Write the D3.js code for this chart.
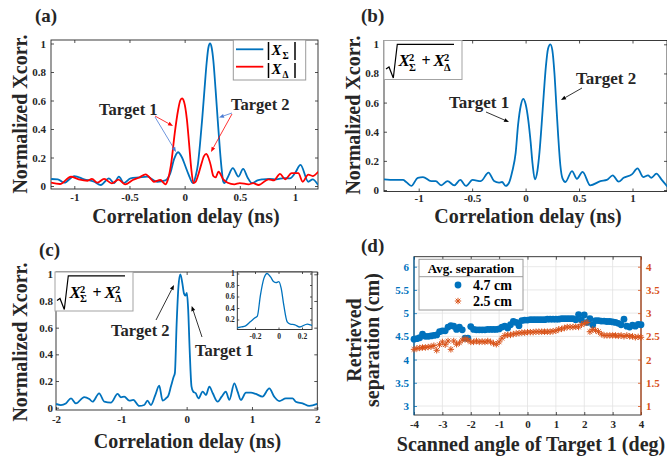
<!DOCTYPE html>
<html><head><meta charset="utf-8">
<script src="https://cdn.jsdelivr.net/npm/d3@7"></script>
<style>
body{margin:0;background:#fff;}
svg text{font-family:"Liberation Serif","Times New Roman",serif;font-weight:bold;}
</style></head><body>
<svg id="fig" width="667" height="461"></svg>
<script>
// ---------------- data ----------------
// (a) |X_sum| and |X_delta| cross-correlation magnitudes vs delay (ns)
const aTicksX = [-1, -0.5, 0, 0.5, 1];
const aTicksY = [0, 0.2, 0.4, 0.6, 0.8, 1];
const sumA = [[-1.21,0.049],[-1.15,0.047],[-1.09,0.023],[-1.0,0.07],[-0.91,0.047],[-0.82,0.03],[-0.76,0.007],[-0.686,0.054],[-0.64,0.02],[-0.596,0.066],[-0.55,0.02],[-0.49,0.054],[-0.415,0.06],[-0.34,0.066],[-0.25,0.03],[-0.174,0.04],[-0.13,0.09],[-0.095,0.19],[-0.06,0.237],[-0.024,0.2],[0.006,0.14],[0.036,0.08],[0.075,0.02],[0.1,0.07],[0.12,0.15],[0.14,0.3],[0.16,0.48],[0.18,0.68],[0.2,0.87],[0.215,0.97],[0.23,1.0],[0.245,0.97],[0.26,0.88],[0.28,0.68],[0.3,0.46],[0.32,0.25],[0.335,0.12],[0.35,0.03],[0.36,0.02],[0.39,0.06],[0.437,0.125],[0.487,0.066],[0.53,0.12],[0.57,0.06],[0.61,0.02],[0.66,0.04],[0.71,0.047],[0.77,0.05],[0.83,0.047],[0.9,0.055],[0.954,0.054],[1.0,0.09],[1.05,0.148],[1.12,0.03],[1.16,0.047],[1.21,0.007]];
const deltaA = [[-1.21,0.023],[-1.13,0.014],[-1.03,0.065],[-0.96,0.047],[-0.88,0.037],[-0.84,0.05],[-0.79,0.023],[-0.73,0.05],[-0.66,0.019],[-0.6,0.045],[-0.54,0.012],[-0.47,0.042],[-0.41,0.06],[-0.354,0.082],[-0.3,0.045],[-0.28,0.03],[-0.22,0.042],[-0.174,0.012],[-0.15,0.05],[-0.12,0.17],[-0.09,0.37],[-0.06,0.53],[-0.04,0.6],[-0.024,0.615],[-0.005,0.59],[0.02,0.47],[0.04,0.3],[0.06,0.12],[0.08,0.02],[0.1,0.03],[0.12,0.07],[0.15,0.15],[0.175,0.21],[0.196,0.225],[0.215,0.2],[0.235,0.15],[0.26,0.07],[0.28,0.06],[0.307,0.1],[0.35,0.047],[0.39,0.023],[0.45,0.012],[0.5,0.02],[0.58,0.012],[0.62,0.02],[0.67,0.007],[0.76,0.047],[0.81,0.04],[0.864,0.085],[0.91,0.047],[0.97,0.09],[1.03,0.09],[1.07,0.03],[1.12,0.08],[1.16,0.07],[1.21,0.1]];

// (b) root-sum-square of both channels
const bTicksX = [-1, -0.5, 0, 0.5, 1];
const bTicksY = [0, 0.2, 0.4, 0.6, 0.8, 1];
const rssB = [[-1.33,0.073],[-1.225,0.069],[-1.147,0.069],[-1.117,0.055],[-1.07,0.028],[-1.008,0.084],[-0.96,0.089],[-0.884,0.061],[-0.84,0.061],[-0.79,0.032],[-0.73,0.061],[-0.667,0.032],[-0.611,0.069],[-0.558,0.028],[-0.496,0.069],[-0.419,0.061],[-0.347,0.119],[-0.295,0.061],[-0.25,0.05],[-0.22,0.055],[-0.186,0.028],[-0.155,0.05],[-0.124,0.13],[-0.093,0.255],[-0.07,0.45],[-0.045,0.58],[-0.022,0.626],[0.0,0.59],[0.025,0.48],[0.047,0.33],[0.065,0.18],[0.087,0.073],[0.11,0.13],[0.13,0.26],[0.15,0.45],[0.17,0.66],[0.19,0.85],[0.21,0.97],[0.232,1.0],[0.25,0.96],[0.27,0.8],[0.29,0.55],[0.305,0.37],[0.325,0.17],[0.345,0.08],[0.372,0.055],[0.434,0.13],[0.48,0.077],[0.533,0.125],[0.605,0.032],[0.7,0.061],[0.76,0.069],[0.815,0.1],[0.87,0.057],[0.917,0.084],[0.994,0.107],[1.047,0.148],[1.1,0.089],[1.145,0.1],[1.176,0.084],[1.224,0.112],[1.27,0.073],[1.33,0.02]];

// (c) root-sum-square, closely spaced targets, with zoomed inset
const cTicksX = [-2, -1, 0, 1, 2];
const cTicksY = [0, 0.2, 0.4, 0.6, 0.8, 1];
const insetTicksX = [-0.2, 0, 0.2];
const insetTicksY = [0.2, 0.4, 0.6, 0.8, 1];
const rssC = [[-2.0,0.028],[-1.925,0.02],[-1.85,0.032],[-1.77,0.07],[-1.695,0.032],[-1.568,0.08],[-1.49,0.065],[-1.44,0.045],[-1.34,0.108],[-1.26,0.045],[-1.16,0.038],[-1.057,0.103],[-1.005,0.078],[-0.955,0.083],[-0.878,0.053],[-0.817,0.058],[-0.725,0.013],[-0.65,0.02],[-0.6,0.053],[-0.547,0.02],[-0.48,0.095],[-0.42,0.165],[-0.368,0.053],[-0.317,0.07],[-0.28,0.09],[-0.24,0.16],[-0.2,0.23],[-0.18,0.26],[-0.154,0.62],[-0.125,0.91],[-0.097,1.0],[-0.068,0.94],[-0.04,0.855],[-0.02,0.84],[0.003,0.86],[0.023,0.74],[0.045,0.45],[0.074,0.16],[0.1,0.12],[0.14,0.108],[0.18,0.07],[0.245,0.12],[0.296,0.095],[0.347,0.158],[0.4,0.108],[0.475,0.045],[0.536,0.083],[0.6,0.12],[0.653,0.058],[0.73,0.183],[0.78,0.12],[0.83,0.058],[0.908,0.113],[0.985,0.113],[1.06,0.103],[1.16,0.083],[1.265,0.145],[1.34,0.083],[1.418,0.05],[1.52,0.07],[1.62,0.07],[1.67,0.045],[1.775,0.032],[1.877,0.013],[2.0,0.028]];

// (d) retrieved separation vs scanned angle of target 1
const dTicksX = [-4, -3, -2, -1, 0, 1, 2, 3, 4];
const dTicksL = [3, 3.5, 4, 4.5, 5, 5.5, 6];
const dTicksR = [1, 1.5, 2, 2.5, 3, 3.5, 4];
const scanAngle = [-4.0,-3.9,-3.8,-3.7,-3.6,-3.5,-3.4,-3.3,-3.2,-3.1,-3.0,-2.9,-2.8,-2.7,-2.6,-2.5,-2.4,-2.3,-2.2,-2.1,-2.0,-1.9,-1.8,-1.7,-1.6,-1.5,-1.4,-1.3,-1.2,-1.1,-1.0,-0.9,-0.8,-0.7,-0.6,-0.5,-0.4,-0.3,-0.2,-0.1,0.0,0.1,0.2,0.3,0.4,0.5,0.6,0.7,0.8,0.9,1.0,1.1,1.2,1.3,1.4,1.5,1.6,1.7,1.8,1.9,2.0,2.1,2.2,2.3,2.4,2.5,2.6,2.7,2.8,2.9,3.0,3.1,3.2,3.3,3.4,3.5,3.6,3.7,3.8,3.9,4.0];
const sep47 = [4.44,4.45,4.47,4.55,4.5,4.5,4.51,4.52,4.53,4.6,4.62,4.62,4.7,4.73,4.72,4.65,4.7,4.64,4.46,4.46,4.71,4.65,4.64,4.64,4.64,4.64,4.65,4.65,4.65,4.65,4.66,4.7,4.72,4.68,4.75,4.82,4.8,4.73,4.84,4.85,4.85,4.86,4.86,4.86,4.86,4.86,4.86,4.87,4.87,4.87,4.87,4.87,4.88,4.88,4.88,4.88,4.88,4.86,4.97,4.85,4.96,4.8,4.88,4.75,4.84,4.84,4.83,4.83,4.82,4.82,4.81,4.8,4.78,4.75,4.87,4.72,4.7,4.74,4.72,4.76,4.75];
const sep25 = [2.22,2.24,2.25,2.26,2.26,2.27,2.28,2.3,2.2,2.32,2.38,2.32,2.4,2.22,2.4,2.33,2.36,2.42,2.45,2.42,2.38,2.38,2.4,2.38,2.39,2.38,2.4,2.38,2.35,2.33,2.38,2.46,2.52,2.53,2.53,2.55,2.56,2.57,2.58,2.58,2.59,2.59,2.59,2.6,2.6,2.6,2.6,2.6,2.6,2.61,2.62,2.65,2.66,2.68,2.7,2.7,2.7,2.71,2.7,2.75,2.78,2.8,2.6,2.65,2.63,2.6,2.55,2.52,2.52,2.52,2.52,2.52,2.51,2.52,2.5,2.52,2.5,2.5,2.48,2.49,2.48];

// ---------------- drawing ----------------
const INK = '#262626';
const BLUE = '#0072BD', RED = '#FF0000', ORANGE = '#D95319';
const SERIF = '"Liberation Serif","Times New Roman",serif';
const svg = d3.select('#fig');
const fmt = d => String(d);

function styleAxis(sel, color, size) {
  sel.attr('font-family', null).attr('font-size', null).attr('color', color);
  sel.select('.domain').remove();
  sel.selectAll('text').attr('font-size', size).attr('font-family', SERIF).attr('font-weight', 'bold');
  sel.selectAll('line').attr('stroke-width', 0.8);
}

function frame(g, box, xs, ys, xt, yt, o = {}) {
  const size = o.size || 11;
  const tl = o.tick || 3;
  g.append('g').attr('transform', `translate(0,${box.b})`)
    .call(d3.axisBottom(xs).tickValues(xt).tickFormat(fmt).tickSizeInner(-tl).tickSizeOuter(0).tickPadding(o.xpad || 5))
    .call(s => styleAxis(s, INK, size));
  g.append('g').attr('transform', `translate(0,${box.t})`)
    .call(d3.axisTop(xs).tickValues(xt).tickFormat('').tickSizeInner(-tl).tickSizeOuter(0))
    .call(s => styleAxis(s, INK, size));
  g.append('g').attr('transform', `translate(${box.l},0)`)
    .call(d3.axisLeft(ys).tickValues(yt).tickFormat(fmt).tickSizeInner(-tl).tickSizeOuter(0).tickPadding(o.ypad || 5))
    .call(s => styleAxis(s, o.leftColor || INK, size));
  if (!o.noRight) {
    g.append('g').attr('transform', `translate(${box.r},0)`)
      .call(d3.axisRight(ys).tickValues(yt).tickFormat('').tickSizeInner(-tl).tickSizeOuter(0))
      .call(s => styleAxis(s, INK, size));
  }
  g.append('rect').attr('x', box.l).attr('y', box.t)
    .attr('width', box.r - box.l).attr('height', box.b - box.t)
    .attr('fill', 'none').attr('stroke', INK).attr('stroke-width', 0.9);
}

let clipId = 0;
function clip(g, box) {
  const id = 'clip' + (clipId++);
  g.append('clipPath').attr('id', id).append('rect')
    .attr('x', box.l).attr('y', box.t).attr('width', box.r - box.l).attr('height', box.b - box.t);
  return `url(#${id})`;
}

function curve(g, data, xs, ys, color, w, cp) {
  g.append('path').datum(data)
    .attr('d', d3.line().x(d => xs(d[0])).y(d => ys(d[1])).curve(d3.curveMonotoneX))
    .attr('fill', 'none').attr('stroke', color).attr('stroke-width', w)
    .attr('stroke-linejoin', 'round').attr('clip-path', cp);
}

function label(g, x, y, txt, size, o = {}) {
  const t = g.append('text').attr('x', x).attr('y', y).text(txt)
    .attr('font-size', size).attr('fill', o.fill || INK)
    .attr('text-anchor', o.anchor || 'start');
  if (o.rotate) t.attr('x', 0).attr('y', 0).attr('transform', `translate(${x},${y}) rotate(-90)`);
  if (o.italic) t.attr('font-style', 'italic');
  if (o.weight) t.attr('font-weight', o.weight);
  return t;
}

function arrow(g, x1, y1, x2, y2, color, w = 0.8, L = 5, H = 2) {
  const a = Math.atan2(y2 - y1, x2 - x1);
  const bx = x2 - L * Math.cos(a), by = y2 - L * Math.sin(a);
  g.append('line').attr('x1', x1).attr('y1', y1).attr('x2', bx).attr('y2', by)
    .attr('stroke', color).attr('stroke-width', w);
  const px = -Math.sin(a) * H, py = Math.cos(a) * H;
  g.append('path').attr('d', `M${x2},${y2}L${bx + px},${by + py}L${bx - px},${by - py}Z`).attr('fill', color);
}

function radicalBox(g, x0, y0) {
  g.append('rect').attr('x', x0).attr('y', y0).attr('width', 78).attr('height', 39)
    .attr('fill', '#fff').attr('stroke', '#a3a3a3').attr('stroke-width', 1);
  g.append('path')
    .attr('d', `M${x0 + 2},${y0 + 28.5}L${x0 + 5},${y0 + 26.5}L${x0 + 9.3},${y0 + 37.5}L${x0 + 13.3},${y0 + 3.8}H${x0 + 70}`)
    .attr('fill', 'none').attr('stroke', '#000').attr('stroke-width', 1.2);
  const t = (dx, dy, s, txt, it) => label(g, x0 + dx, y0 + dy, txt, s, { fill: '#000', italic: it });
  t(14.5, 25.5, 17, 'X', true);
  t(25, 30, 10.5, 'Σ'); t(25, 20.5, 10.5, '2');
  t(37.5, 25.5, 16, '+').attr('font-weight', 'normal');
  t(49.5, 25.5, 17, 'X', true);
  t(60, 30, 10.5, 'Δ'); t(60, 20.5, 10.5, '2');
}

// ---------- panel (a) ----------
{
  const g = svg.append('g');
  const box = { l: 51, r: 318, t: 40, b: 189 };
  const xs = d3.scaleLinear().domain([-1, 1]).range([74.3, 295]);
  const ys = d3.scaleLinear().domain([0, 1]).range([186, 43.5]);
  frame(g, box, xs, ys, aTicksX, aTicksY, { ypad: 5, xpad: 4.5 });
  const cp = clip(g, box);
  curve(g, sumA, xs, ys, BLUE, 1.8, cp);
  curve(g, deltaA, xs, ys, RED, 1.8, cp);
  // legend
  g.append('rect').attr('x', 233.3).attr('y', 40).attr('width', 72.4).attr('height', 40)
    .attr('fill', '#fff').attr('stroke', '#9a9a9a').attr('stroke-width', 1);
  [[49.3, BLUE, 'Σ', 55, 42, 60], [66.7, RED, 'Δ', 74, 63, 78]].forEach(([ly, c, sym, base, b0, b1]) => {
    g.append('line').attr('x1', 236).attr('x2', 263.3).attr('y1', ly).attr('y2', ly).attr('stroke', c).attr('stroke-width', 1.8);
    g.append('line').attr('x1', 268.5).attr('x2', 268.5).attr('y1', b0).attr('y2', b1).attr('stroke', '#000').attr('stroke-width', 1.5);
    g.append('line').attr('x1', 295).attr('x2', 295).attr('y1', b0).attr('y2', b1).attr('stroke', '#000').attr('stroke-width', 1.5);
    label(g, 271.5, base, 'X', 15, { fill: '#000', italic: true });
    label(g, 282.5, base + 3.5, sym, 9.5, { fill: '#000' });
  });
  // annotations
  label(g, 99, 115, 'Target 1', 16.5);
  label(g, 231, 110, 'Target 2', 16.5);
  arrow(g, 155, 116, 173, 126, RED);
  arrow(g, 155, 117, 176, 152, '#4a7bd4');
  arrow(g, 232, 113, 219, 117.5, '#4a7bd4');
  arrow(g, 232, 114, 211, 152, RED);
  label(g, 35, 22, '(a)', 19);
  label(g, 27, 114, 'Normalized Xcorr.', 20, { rotate: true, anchor: 'middle' });
  label(g, 186, 222.5, 'Correlation delay (ns)', 20, { anchor: 'middle' });
}

// ---------- panel (b) ----------
{
  const g = svg.append('g');
  const box = { l: 384, r: 667, t: 40.5, b: 191.5 };
  const xs = d3.scaleLinear().domain([-1, 1]).range([418.7, 632.5]);
  const ys = d3.scaleLinear().domain([0, 1]).range([190, 44.3]);
  frame(g, box, xs, ys, bTicksX, bTicksY, { ypad: 5, xpad: 3 });
  const cp = clip(g, box);
  curve(g, rssB, xs, ys, BLUE, 1.8, cp);
  radicalBox(g, 384, 40.5);
  label(g, 449, 108, 'Target 1', 17);
  label(g, 576, 84, 'Target 2', 17);
  arrow(g, 486, 112, 509, 122, '#000', 0.8);
  arrow(g, 582, 88, 561, 100, '#000', 0.8);
  label(g, 361, 22, '(b)', 19);
  label(g, 360, 115, 'Normalized Xcorr.', 20, { rotate: true, anchor: 'middle' });
  label(g, 528, 223, 'Correlation delay (ns)', 20, { anchor: 'middle' });
}

// ---------- panel (c) ----------
{
  const g = svg.append('g');
  const box = { l: 56, r: 317.3, t: 272, b: 410 };
  const xs = d3.scaleLinear().domain([-2, 2]).range([56, 317.3]);
  const ys = d3.scaleLinear().domain([0, 1]).range([407.7, 274.3]);
  frame(g, box, xs, ys, cTicksX, cTicksY, { ypad: 3 });
  const cp = clip(g, box);
  curve(g, rssC, xs, ys, BLUE, 1.8, cp);
  radicalBox(g, 55, 272);
  // inset
  const ib = { l: 237.3, r: 312, t: 272, b: 329.5 };
  g.append('rect').attr('x', ib.l).attr('y', ib.t).attr('width', ib.r - ib.l).attr('height', ib.b - ib.t).attr('fill', '#fff');
  const ixs = d3.scaleLinear().domain([-0.2, 0.2]).range([255, 302]);
  const iys = d3.scaleLinear().domain([0.2, 1]).range([319.5, 273.5]);
  frame(g, ib, ixs, iys, insetTicksX, insetTicksY, { size: 7.5, ypad: 2.5, xpad: 4.5, tick: 2 });
  const icp = clip(g, ib);
  curve(g, rssC, ixs, iys, BLUE, 1.3, icp);
  label(g, 111, 336, 'Target 2', 16.5);
  label(g, 195, 356, 'Target 1', 16.5);
  arrow(g, 156, 320, 174, 285, '#000', 0.8);
  arrow(g, 202, 337, 191.7, 306, '#000', 0.8);
  label(g, 39, 256, '(c)', 19);
  label(g, 27, 342, 'Normalized Xcorr.', 20, { rotate: true, anchor: 'middle' });
  label(g, 187.5, 447.5, 'Correlation delay (ns)', 20, { anchor: 'middle' });
}

// ---------- panel (d) ----------
{
  const g = svg.append('g');
  const box = { l: 414, r: 641, t: 256.7, b: 415 };
  const xs = d3.scaleLinear().domain([-4, 4]).range([414, 641]);
  const yl = d3.scaleLinear().domain([3, 6]).range([406, 266.7]);
  const yr = d3.scaleLinear().domain([1, 4]).range([406, 266.7]);
  // grid
  const grid = g.append('g').attr('stroke', '#e2e2e2').attr('stroke-width', 0.8);
  grid.selectAll('.gx').data(dTicksX).join('line')
    .attr('x1', d => xs(d)).attr('x2', d => xs(d)).attr('y1', box.t).attr('y2', box.b);
  grid.selectAll('.gy').data(dTicksL).join('line')
    .attr('y1', d => yl(d)).attr('y2', d => yl(d)).attr('x1', box.l).attr('x2', box.r);
  frame(g, box, xs, yl, dTicksX, dTicksL, { noRight: true, leftColor: BLUE, ypad: 5 });
  g.append('g').attr('transform', `translate(${box.r},0)`)
    .call(d3.axisRight(yr).tickValues(dTicksR).tickFormat(fmt).tickSizeInner(-3).tickSizeOuter(0).tickPadding(5))
    .call(s => styleAxis(s, ORANGE, 11));
  g.append('line').attr('x1', box.l).attr('x2', box.l).attr('y1', box.t).attr('y2', box.b).attr('stroke', BLUE).attr('stroke-width', 1);
  g.append('line').attr('x1', box.r).attr('x2', box.r).attr('y1', box.t).attr('y2', box.b).attr('stroke', ORANGE).attr('stroke-width', 1);
  const cp = clip(g, { l: box.l - 4, r: box.r + 4, t: box.t, b: box.b });
  const pts = g.append('g').attr('clip-path', cp);
  pts.selectAll('circle').data(scanAngle).join('circle')
    .attr('cx', d => xs(d)).attr('cy', (d, i) => yl(sep47[i])).attr('r', 3.4).attr('fill', BLUE);
  const star = 'M-3.2,0H3.2M0,-3.2V3.2M-2.3,-2.3L2.3,2.3M-2.3,2.3L2.3,-2.3';
  pts.selectAll('path.star').data(scanAngle).join('path').attr('class', 'star')
    .attr('d', star).attr('transform', (d, i) => `translate(${xs(d)},${yr(sep25[i])})`)
    .attr('stroke', ORANGE).attr('stroke-width', 1).attr('fill', 'none');
  // legend
  g.append('rect').attr('x', 419).attr('y', 259.3).attr('width', 104).attr('height', 50.7)
    .attr('fill', '#fff').attr('stroke', '#9a9a9a').attr('stroke-width', 1);
  g.append('line').attr('x1', 419).attr('x2', 523).attr('y1', 276.7).attr('y2', 276.7).attr('stroke', '#9a9a9a');
  label(g, 471, 272.5, 'Avg. separation', 13, { anchor: 'middle', fill: '#000' });
  g.append('circle').attr('cx', 458).attr('cy', 285).attr('r', 3.4).attr('fill', BLUE);
  label(g, 473, 290, '4.7 cm', 14, { fill: '#000' });
  g.append('path').attr('d', star).attr('transform', 'translate(458,301)').attr('stroke', ORANGE).attr('fill', 'none');
  label(g, 473, 306, '2.5 cm', 14, { fill: '#000' });
  label(g, 361, 252, '(d)', 19);
  label(g, 361, 340, 'Retrieved', 20, { rotate: true, anchor: 'middle' });
  label(g, 379, 340, 'separation (cm)', 20, { rotate: true, anchor: 'middle' });
  label(g, 531, 451, 'Scanned angle of Target 1 (deg)', 20, { anchor: 'middle' });
}
</script>
</body></html>
